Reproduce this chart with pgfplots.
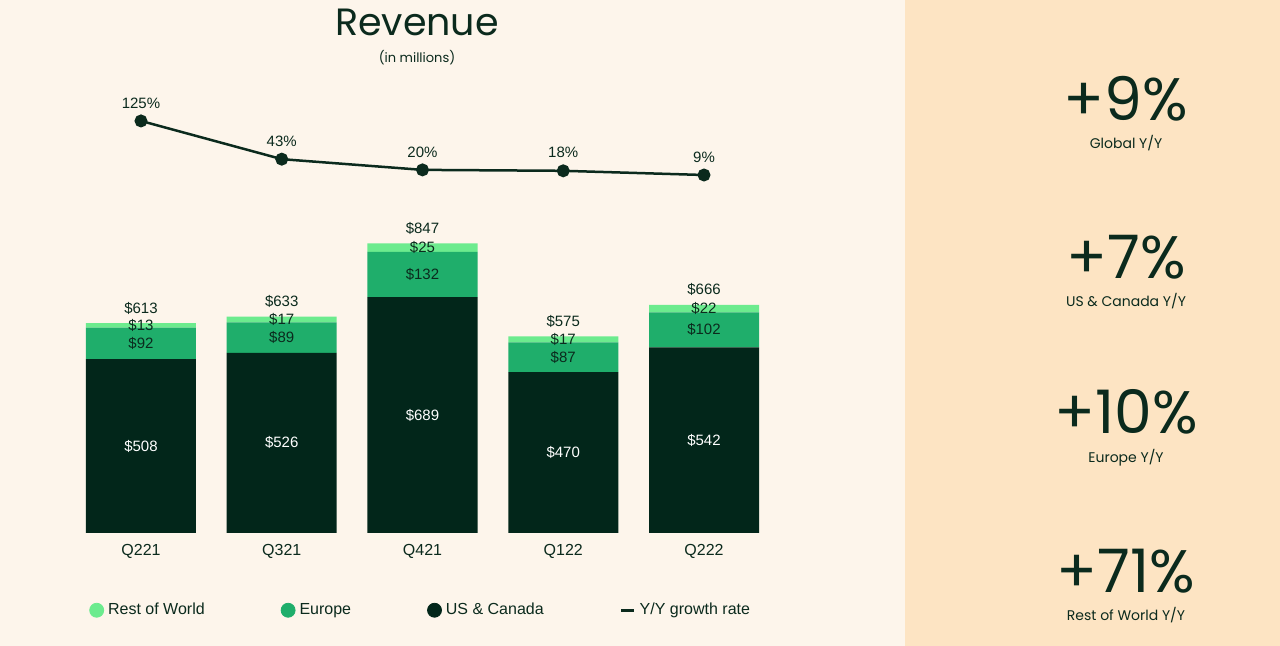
\documentclass[border=0pt]{standalone}
\usepackage{pgfplots}
\pgfplotsset{compat=1.18}
\pgfkeys{/pgf/number format/assume math mode=true}
\usepackage{fontspec}
\setmainfont{Liberation Sans}
\newfontfamily\pop{Poppins}
\definecolor{bgL}{HTML}{FDF5EB}
\definecolor{bgR}{HTML}{FDE4C3}
\definecolor{usc}{HTML}{02261A}
\definecolor{euc}{HTML}{1FAE6B}
\definecolor{rwc}{HTML}{6CEB8E}
\definecolor{ink}{HTML}{0B2A1D}
\begin{document}
\begin{tikzpicture}
\useasboundingbox (0pt,0pt) rectangle (640pt,323pt);
\fill[bgL] (0pt,0pt) rectangle (640pt,323pt);
\fill[bgR] (452.5pt,0pt) rectangle (640pt,323pt);
\node[font=\pop\fontsize{19}{19}\selectfont, text=ink] at (208.5pt,312pt) {Revenue};
\node[font=\pop\fontsize{6.5}{6.5}\selectfont, text=ink] at (208.5pt,294pt) {(in millions)};
% right panel
\tikzset{bignum/.style={font=\pop\fontsize{30}{30}\selectfont, text=ink, inner sep=0pt, text depth=0pt, anchor=base},
         smalltxt/.style={font=\pop\fontsize{7}{7}\selectfont, text=ink, inner sep=0pt}}
\node[bignum] at (563pt,262.5pt) {+9\%};
\node[smalltxt] at (563pt,251.5pt) {Global Y/Y};
\node[bignum] at (563pt,183.5pt) {+7\%};
\node[smalltxt] at (563pt,172.5pt) {US \& Canada Y/Y};
\node[bignum] at (563pt,106pt) {+10\%};
\node[smalltxt] at (563pt,94pt) {Europe Y/Y};
\node[bignum] at (563pt,26.5pt) {+71\%};
\node[smalltxt] at (563pt,15.5pt) {Rest of World Y/Y};

% stacked bars
\begin{axis}[at={(7.16pt,56.5pt)}, anchor=south west,
  x=70.375pt, y=0.1712pt, xmin=-0.9, xmax=4.9, ymin=0, ymax=900,
  ybar stacked, bar width=55pt,
  axis line style={draw=none}, ytick=\empty,
  xtick={0,...,4}, xticklabels={Q221,Q321,Q421,Q122,Q222},
  major tick length=0pt, xtick style={draw=none},
  xticklabel style={font=\fontsize{8}{8}\selectfont, text=ink, yshift=-2pt},
  clip=false,
  point meta=rawy,
  nodes near coords={\$\pgfmathprintnumber{\pgfplotspointmeta}},
  every node near coord/.append style={anchor=center, font=\fontsize{7.5}{7.5}\selectfont},
]
\addplot[fill=usc, draw=none, every node near coord/.append style={text=white}] coordinates {(0,508) (1,526) (2,689) (3,470) (4,542)};
\addplot[fill=euc, draw=none, every node near coord/.append style={text=ink}] coordinates {(0,92) (1,89) (2,132) (3,87) (4,102)};
\addplot[fill=rwc, draw=none, every node near coord/.append style={text=ink}] coordinates {(0,13) (1,17) (2,25) (3,17) (4,22)};
\end{axis}

% totals
\begin{axis}[at={(7.16pt,56.5pt)}, anchor=south west,
  x=70.375pt, y=0.1712pt, xmin=-0.9, xmax=4.9, ymin=0, ymax=900,
  hide axis, clip=false,
  nodes near coords={\$\pgfmathprintnumber{\pgfplotspointmeta}},
  every node near coord/.append style={anchor=center, yshift=7.5pt, text=ink, font=\fontsize{7.5}{7.5}\selectfont},
]
\addplot[draw=none, mark=none] coordinates {(0,613) (1,633) (2,847) (3,575) (4,666)};
\end{axis}

% growth line
\begin{axis}[at={(7.16pt,233.4pt)}, anchor=south west,
  x=70.375pt, y=0.233pt, xmin=-0.9, xmax=4.9, ymin=0, ymax=140,
  hide axis, clip=false,
  legend columns=4,
  legend style={at={(0.084,-6.607)}, anchor=west, draw=none, fill=none,
    font=\fontsize{8}{8}\selectfont, text=ink,
    /tikz/every even column/.append style={column sep=36pt}},
]
\addplot[ink, line width=1.25pt, mark=*, mark size=2.6pt, forget plot,
  nodes near coords={\pgfmathprintnumber{\pgfplotspointmeta}\%},
  every node near coord/.append style={anchor=center, yshift=9pt, text=ink, font=\fontsize{7.5}{7.5}\selectfont}]
  coordinates {(0,125) (1,43) (2,20) (3,18) (4,9)};
\addlegendimage{legend image code/.code={\fill[rwc] (3.5pt,0pt) circle (3.5pt);}}
\addlegendentry{Rest of World}
\addlegendimage{legend image code/.code={\fill[euc] (3.5pt,0pt) circle (3.5pt);}}
\addlegendentry{Europe}
\addlegendimage{legend image code/.code={\fill[usc] (3.5pt,0pt) circle (3.5pt);}}
\addlegendentry{US \& Canada}
\addlegendimage{legend image code/.code={\draw[ink, line width=1.5pt] (0pt,0pt) -- (6.5pt,0pt);}}
\addlegendentry{Y/Y growth rate}
\end{axis}
\end{tikzpicture}
\end{document}
